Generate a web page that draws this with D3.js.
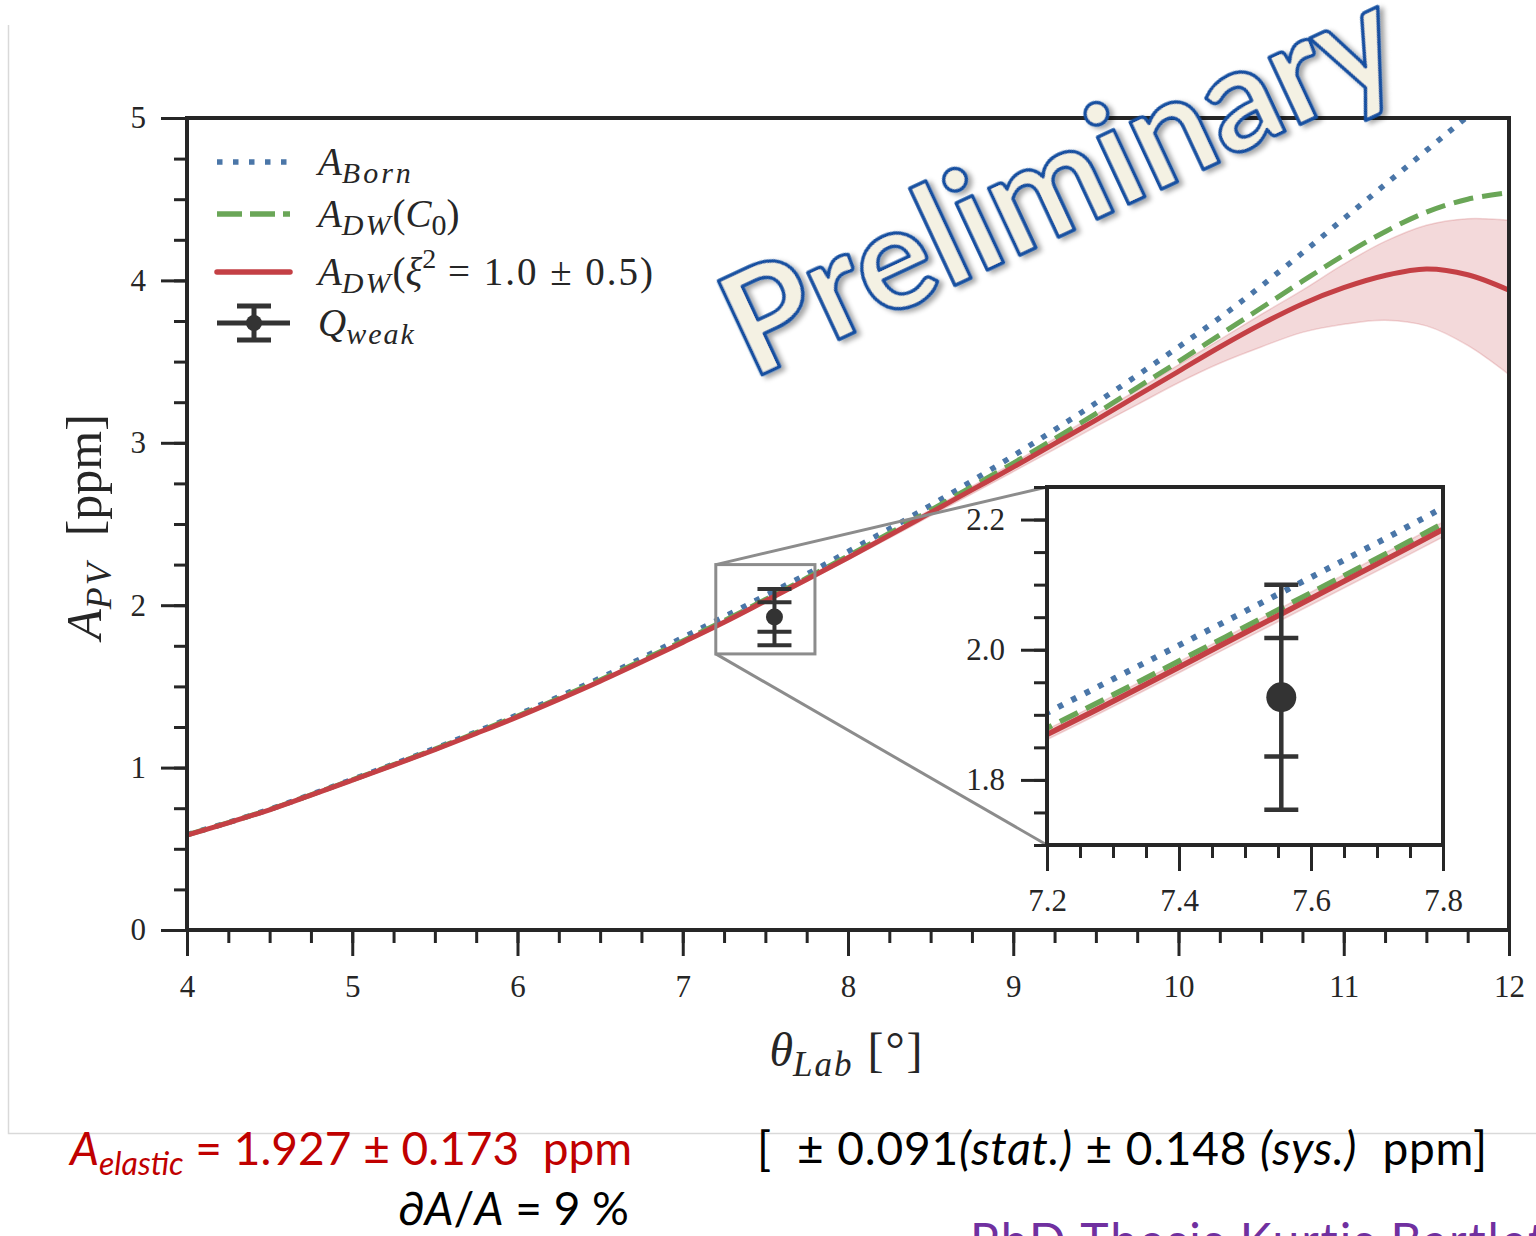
<!DOCTYPE html>
<html>
<head>
<meta charset="utf-8">
<script src="https://cdn.jsdelivr.net/npm/d3@7"></script>
<style>
  body { margin: 0; background: #fff; }
  svg { display: block; }
  .tick text { font-family: "Liberation Serif", serif; font-size: 31px; fill: #262626; }
  .tick line { stroke-width: 3; }
  .math { font-family: "Liberation Serif", serif; fill: #262626; white-space: pre; }
  .slide { font-family: Lato, "Open Sans", sans-serif; white-space: pre; }
</style>
</head>
<body>
<svg id="chart" width="1536" height="1236"></svg>
<script>
// Scattering angle grid (degrees) and asymmetry curves (ppm)
const theta = [4.0, 4.25, 4.5, 4.75, 5.0, 5.25, 5.5, 5.75, 6.0, 6.25, 6.5, 6.75, 7.0, 7.25, 7.5, 7.75,
  8.0, 8.25, 8.5, 8.75, 9.0, 9.25, 9.5, 9.75, 10.0, 10.25, 10.5, 10.75, 11.0, 11.25, 11.5, 11.75, 12.0];
const aBorn = [0.587, 0.662, 0.743, 0.834, 0.927, 1.021, 1.118, 1.22, 1.325, 1.436, 1.551, 1.673, 1.80, 1.929, 2.059, 2.191,
  2.33, 2.47, 2.615, 2.765, 2.92, 3.08, 3.245, 3.415, 3.59, 3.77, 3.965, 4.17, 4.38, 4.59, 4.80, 5.01, 5.22];
const aDwC0 = [0.586, 0.661, 0.742, 0.832, 0.925, 1.018, 1.114, 1.215, 1.318, 1.427, 1.54, 1.659, 1.78, 1.905, 2.035, 2.167,
  2.303, 2.443, 2.585, 2.73, 2.875, 3.025, 3.18, 3.34, 3.50, 3.665, 3.83, 3.995, 4.155, 4.30, 4.42, 4.50, 4.54];
const aDwXi = [0.585, 0.66, 0.74, 0.83, 0.922, 1.015, 1.11, 1.21, 1.312, 1.42, 1.532, 1.65, 1.771, 1.895, 2.026, 2.158,
  2.292, 2.43, 2.57, 2.71, 2.85, 2.995, 3.14, 3.29, 3.44, 3.59, 3.73, 3.855, 3.955, 4.03, 4.07, 4.035, 3.94];
const aDwXiLow = [0.584, 0.659, 0.739, 0.829, 0.92, 1.013, 1.108, 1.207, 1.309, 1.416, 1.527, 1.644, 1.764, 1.887, 2.017, 2.147,
  2.279, 2.413, 2.55, 2.685, 2.822, 2.96, 3.10, 3.235, 3.37, 3.49, 3.59, 3.68, 3.73, 3.755, 3.72, 3.60, 3.42];
const aDwXiHigh = [0.586, 0.661, 0.741, 0.831, 0.924, 1.017, 1.112, 1.213, 1.315, 1.424, 1.537, 1.656, 1.778, 1.903, 2.035, 2.169,
  2.305, 2.445, 2.588, 2.732, 2.876, 3.025, 3.175, 3.325, 3.48, 3.635, 3.79, 3.94, 4.10, 4.24, 4.34, 4.38, 4.37];

// Qweak measurement
const qweakTheta = 7.555;
const qweakValue = 1.927;
const qweakStat = 0.091;
const qweakTotal = 0.173;

// Tick labels
const xTicks = [4, 5, 6, 7, 8, 9, 10, 11, 12];
const yTicks = [0, 1, 2, 3, 4, 5];
const insetXTicks = [7.2, 7.4, 7.6, 7.8];
const insetYTicks = [1.8, 2.0, 2.2];

const colors = {born: '#4a76a8', c0: '#6aa657', xi: '#c44045', ink: '#262626', point: '#333333', zoom: '#8c8c8c'};

const svg = d3.select('#chart');

const rows = theta.map((t, i) => ({
  t, born: aBorn[i], c0: aDwC0[i], xi: aDwXi[i], lo: aDwXiLow[i], hi: aDwXiHigh[i]
}));

// slide border
svg.append('path')
    .attr('d', 'M8.5,25V1133.5H1536')
    .attr('fill', 'none')
    .attr('stroke', '#d9d9d9')
    .attr('stroke-width', 1.5);

// Main panel scales
const x = d3.scaleLinear().domain([4, 12]).range([187, 1509]);
const y = d3.scaleLinear().domain([0, 5]).range([930, 118]);

// Inset panel scales
const xi = d3.scaleLinear().domain([7.2, 7.8]).range([1047, 1443]);
const yi = d3.scaleLinear().domain([1.70, 2.25]).range([845, 487]);

const defs = svg.append('defs');
defs.append('clipPath').attr('id', 'clip-main').append('rect')
    .attr('x', x.range()[0]).attr('y', y.range()[1])
    .attr('width', x.range()[1] - x.range()[0]).attr('height', y.range()[0] - y.range()[1]);
defs.append('clipPath').attr('id', 'clip-inset').append('rect')
    .attr('x', xi.range()[0]).attr('y', yi.range()[1])
    .attr('width', xi.range()[1] - xi.range()[0]).attr('height', yi.range()[0] - yi.range()[1]);
const shadow = defs.append('filter').attr('id', 'shadow')
    .attr('x', '-10%').attr('y', '-10%').attr('width', '120%').attr('height', '130%');
shadow.append('feDropShadow')
    .attr('dx', 3).attr('dy', 4).attr('stdDeviation', 2.5)
    .attr('flood-color', '#000').attr('flood-opacity', 0.35);

function drawCurves(g, xs, ys, widthScale) {
  const curve = d3.curveCatmullRom.alpha(0.5);
  const line = key => d3.line().curve(curve).x(d => xs(d.t)).y(d => ys(d[key]));
  const area = d3.area().curve(curve)
      .x(d => xs(d.t)).y0(d => ys(d.lo)).y1(d => ys(d.hi));

  g.append('path').datum(rows)
      .attr('d', area)
      .attr('fill', colors.xi).attr('fill-opacity', 0.2)
      .attr('stroke', colors.xi).attr('stroke-opacity', 0.2).attr('stroke-width', 1.5);

  g.append('path').datum(rows)
      .attr('d', line('born'))
      .attr('fill', 'none').attr('stroke', colors.born)
      .attr('stroke-width', 5.5 * widthScale).attr('stroke-dasharray', '5.5,9.5');

  g.append('path').datum(rows)
      .attr('d', line('c0'))
      .attr('fill', 'none').attr('stroke', colors.c0)
      .attr('stroke-width', 5 * widthScale).attr('stroke-dasharray', '20,9');

  g.append('path').datum(rows)
      .attr('d', line('xi'))
      .attr('fill', 'none').attr('stroke', colors.xi)
      .attr('stroke-width', 5 * widthScale);
}

function drawErrorBar(g, xs, ys, capHalf, radius, lw) {
  const cx = xs(qweakTheta);
  g.append('line')
      .attr('x1', cx).attr('x2', cx)
      .attr('y1', ys(qweakValue - qweakTotal)).attr('y2', ys(qweakValue + qweakTotal))
      .attr('stroke', colors.point).attr('stroke-width', lw);
  const caps = [qweakValue - qweakTotal, qweakValue - qweakStat, qweakValue + qweakStat, qweakValue + qweakTotal];
  g.selectAll(null).data(caps).join('line')
      .attr('x1', cx - capHalf).attr('x2', cx + capHalf)
      .attr('y1', d => ys(d)).attr('y2', d => ys(d))
      .attr('stroke', colors.point).attr('stroke-width', lw);
  g.append('circle')
      .attr('cx', cx).attr('cy', ys(qweakValue)).attr('r', radius)
      .attr('fill', colors.point);
}

function drawAxes(g, xs, ys, xMajor, yMajor, xMinorStep, yMinorStep, fmt, pad) {
  const [x0, x1] = xs.domain();
  const [y0, y1] = ys.domain();
  const xMinor = d3.range(x0, x1 + 1e-9, xMinorStep);
  const yMinor = d3.range(Math.ceil(y0 / yMinorStep - 1e-9) * yMinorStep, y1 + 1e-9, yMinorStep);
  const bottom = ys.range()[0];
  const left = xs.range()[0];

  g.append('g').attr('transform', `translate(0,${bottom})`).attr('color', colors.ink)
      .call(d3.axisBottom(xs).tickValues(xMinor).tickSize(13).tickFormat(''))
      .call(a => a.select('.domain').remove());
  g.append('g').attr('transform', `translate(0,${bottom})`).attr('color', colors.ink)
      .call(d3.axisBottom(xs).tickValues(xMajor).tickSize(26).tickPadding(pad.x).tickFormat(fmt.x))
      .call(a => a.select('.domain').remove());
  g.append('g').attr('transform', `translate(${left},0)`).attr('color', colors.ink)
      .call(d3.axisLeft(ys).tickValues(yMinor).tickSize(13).tickFormat(''))
      .call(a => a.select('.domain').remove());
  g.append('g').attr('transform', `translate(${left},0)`).attr('color', colors.ink)
      .call(d3.axisLeft(ys).tickValues(yMajor).tickSize(26).tickPadding(pad.y).tickFormat(fmt.y))
      .call(a => a.select('.domain').remove());
}

function frame(g, xs, ys, fill) {
  g.append('rect')
      .attr('x', xs.range()[0]).attr('y', ys.range()[1])
      .attr('width', xs.range()[1] - xs.range()[0]).attr('height', ys.range()[0] - ys.range()[1])
      .attr('fill', fill).attr('stroke', colors.ink).attr('stroke-width', 4);
}

// Math-style text built from segments: shift is the baseline offset in px
function mathText(g, xPos, yPos, segs, cls, anchor) {
  const t = g.append('text').attr('class', cls).attr('x', xPos).attr('y', yPos)
      .attr('text-anchor', anchor || 'start');
  let prev = 0;
  segs.forEach(s => {
    const shift = s.shift || 0;
    t.append('tspan')
        .attr('dy', shift - prev)
        .attr('font-size', s.size)
        .attr('font-style', s.italic ? 'italic' : 'normal')
        .attr('letter-spacing', s.ls || 0)
        .text(s.t);
    prev = shift;
  });
  return t;
}

// ---- Main panel ----
const main = svg.append('g');
main.append('rect')
    .attr('x', x.range()[0]).attr('y', y.range()[1])
    .attr('width', x.range()[1] - x.range()[0]).attr('height', y.range()[0] - y.range()[1])
    .attr('fill', '#fff');
drawCurves(main.append('g').attr('clip-path', 'url(#clip-main)'), x, y, 1);
drawErrorBar(main, x, y, 17, 8.5, 4);

// zoom box and connectors
const zoomBox = {x0: x(7.2), x1: x(7.8), y0: y(2.25), y1: y(1.70)};
main.append('rect')
    .attr('x', zoomBox.x0).attr('y', zoomBox.y0)
    .attr('width', zoomBox.x1 - zoomBox.x0).attr('height', zoomBox.y1 - zoomBox.y0)
    .attr('fill', 'none').attr('stroke', colors.zoom).attr('stroke-width', 3);
main.append('line')
    .attr('x1', zoomBox.x0).attr('y1', zoomBox.y0)
    .attr('x2', xi.range()[0]).attr('y2', yi.range()[1])
    .attr('stroke', colors.zoom).attr('stroke-width', 3);
main.append('line')
    .attr('x1', zoomBox.x0).attr('y1', zoomBox.y1)
    .attr('x2', xi.range()[0]).attr('y2', yi.range()[0])
    .attr('stroke', colors.zoom).attr('stroke-width', 3);

frame(main, x, y, 'none');
drawAxes(main, x, y, xTicks, yTicks, 0.25, 0.25,
    {x: d3.format('d'), y: d3.format('d')}, {x: 19, y: 15});

// ---- Inset panel ----
const inset = svg.append('g');
inset.append('rect')
    .attr('x', xi.range()[0]).attr('y', yi.range()[1])
    .attr('width', xi.range()[1] - xi.range()[0]).attr('height', yi.range()[0] - yi.range()[1])
    .attr('fill', '#fff');
drawCurves(inset.append('g').attr('clip-path', 'url(#clip-inset)'), xi, yi, 1.1);
drawErrorBar(inset, xi, yi, 17, 15, 4.5);
frame(inset, xi, yi, 'none');
drawAxes(inset, xi, yi, insetXTicks, insetYTicks, 0.05, 0.05,
    {x: d3.format('.1f'), y: d3.format('.1f')}, {x: 18, y: 16});

// ---- Axis titles ----
mathText(svg.append('g').attr('transform', 'translate(101,527) rotate(-90)'), 0, 0, [
  {t: 'A', size: 50, italic: true},
  {t: 'PV', size: 36, italic: true, shift: 10, ls: 2},
  {t: '  [ppm]', size: 50}
], 'math', 'middle');

mathText(svg, 847, 1066, [
  {t: 'θ', size: 48, italic: true},
  {t: 'Lab', size: 35, italic: true, shift: 10, ls: 2},
  {t: ' [°]', size: 48, ls: 2}
], 'math', 'middle');

// ---- Legend ----
const legend = svg.append('g');
const legendRows = [
  {y: 162, kind: 'born', segs: [{t: 'A', size: 39, italic: true}, {t: 'Born', size: 30, italic: true, shift: 8, ls: 3}]},
  {y: 214, kind: 'c0', segs: [{t: 'A', size: 39, italic: true}, {t: 'DW', size: 30, italic: true, shift: 8, ls: 2},
      {t: '(', size: 39}, {t: 'C', size: 39, italic: true}, {t: '0', size: 30, shift: 8}, {t: ')', size: 39}]},
  {y: 272, kind: 'xi', segs: [{t: 'A', size: 39, italic: true}, {t: 'DW', size: 30, italic: true, shift: 8, ls: 2},
      {t: '(', size: 39}, {t: 'ξ', size: 39, italic: true}, {t: '2', size: 28, shift: -17},
      {t: ' = 1.0 ± 0.5)', size: 39, ls: 2}]},
  {y: 323, kind: 'q', segs: [{t: 'Q', size: 39, italic: true}, {t: 'weak', size: 30, italic: true, shift: 8, ls: 2}]}
];
legendRows.forEach(r => {
  if (r.kind === 'q') {
    legend.append('line').attr('x1', 217).attr('x2', 290).attr('y1', r.y).attr('y2', r.y)
        .attr('stroke', colors.point).attr('stroke-width', 5);
    legend.append('line').attr('x1', 254).attr('x2', 254).attr('y1', r.y - 17).attr('y2', r.y + 17)
        .attr('stroke', colors.point).attr('stroke-width', 5);
    [-17, 17].forEach(o => legend.append('line')
        .attr('x1', 237).attr('x2', 271).attr('y1', r.y + o).attr('y2', r.y + o)
        .attr('stroke', colors.point).attr('stroke-width', 5));
    legend.append('circle').attr('cx', 254).attr('cy', r.y).attr('r', 8).attr('fill', colors.point);
  } else {
    const ln = legend.append('line').attr('x1', 217).attr('x2', 290).attr('y1', r.y).attr('y2', r.y)
        .attr('stroke', colors[r.kind]).attr('stroke-width', 5.5);
    if (r.kind === 'born') ln.attr('stroke-dasharray', '5.5,10.5');
    if (r.kind === 'c0') ln.attr('stroke-dasharray', '25,8');
    if (r.kind === 'xi') ln.attr('stroke-linecap', 'round');
  }
  mathText(legend, 318, r.y + 13, r.segs, 'math');
});

// ---- Slide text below the figure ----
mathText(svg, 70, 1165, [
  {t: 'A', size: 46, italic: true},
  {t: 'elastic', size: 32, italic: true, shift: 10},
  {t: ' = 1.927 ± 0.173  ppm', size: 46}
], 'slide').attr('fill', '#c00000');

mathText(svg, 757, 1165, [
  {t: '[  ± 0.091', size: 46},
  {t: '(stat.)', size: 46, italic: true},
  {t: ' ± 0.148 ', size: 46},
  {t: '(sys.)', size: 46, italic: true},
  {t: '  ppm]', size: 46}
], 'slide').attr('fill', '#000')
    .attr('textLength', 730).attr('lengthAdjust', 'spacing');

mathText(svg, 398, 1225, [
  {t: '∂', size: 46},
  {t: 'A', size: 46, italic: true},
  {t: '/', size: 46},
  {t: 'A', size: 46, italic: true},
  {t: ' = 9 %', size: 46}
], 'slide').attr('fill', '#000');

svg.append('text').attr('class', 'slide')
    .attr('x', 970).attr('y', 1258)
    .attr('font-size', 48).attr('letter-spacing', 2).attr('fill', '#7030a0')
    .text('PhD Thesis Kurtis Bartlett');

// ---- Preliminary stamp ----
svg.append('text')
    .attr('class', 'slide')
    .attr('transform', 'translate(752,380) rotate(-25)')
    .attr('font-size', 143)
    .attr('font-weight', 700)
    .attr('fill', '#f4f1e3')
    .attr('stroke', '#1650a0')
    .attr('stroke-width', 3.5)
    .attr('stroke-linejoin', 'round')
    .attr('filter', 'url(#shadow)')
    .text('Preliminary');
</script>
</body>
</html>
